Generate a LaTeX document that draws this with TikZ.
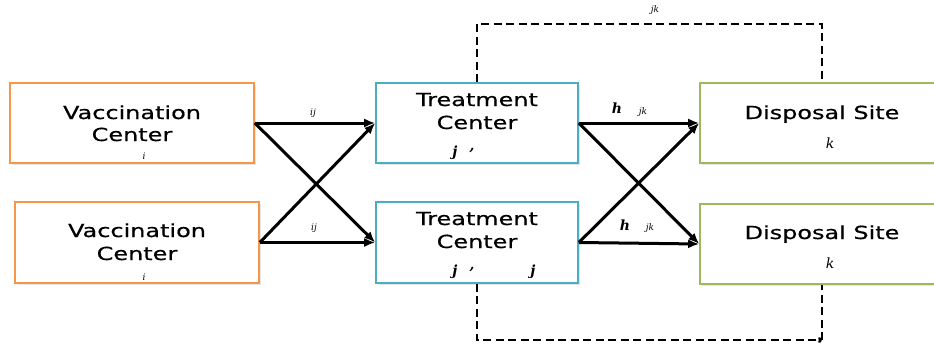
\documentclass[tikz,border=0pt]{standalone}
\usepackage{fontspec}
\newfontfamily\boxfont{DejaVu Sans}[FakeStretch=1.33,FakeBold=0.6]
\newfontfamily\lblfont{DejaVu Serif}
\usetikzlibrary{arrows.meta,shadows}
\definecolor{vorange}{HTML}{F79646}
\definecolor{tblue}{HTML}{4BACC6}
\definecolor{dgreen}{HTML}{9BBB59}
\begin{document}
\begin{tikzpicture}[x=1pt,y=-1pt,
  box/.style={draw, line width=1.6pt, fill=white, rectangle, inner sep=0pt,
    drop shadow={shadow xshift=1.5pt, shadow yshift=-1.5pt, opacity=0.2}},
  vbox/.style={box, draw=vorange, minimum width=244pt},
  tbox/.style={box, draw=tblue, minimum width=202pt},
  dbox/.style={box, draw=dgreen, minimum width=244pt, minimum height=80pt},
  lbl/.style={font=\boxfont\fontsize{18}{22}\selectfont, anchor=base, inner sep=0pt},
  sm/.style={font=\lblfont\itshape\fontsize{9}{10}\selectfont, inner sep=0pt},
  md/.style={font=\lblfont\itshape\fontsize{14}{15}\selectfont, inner sep=0pt},
  mdb/.style={font=\lblfont\bfseries\itshape\fontsize{14}{15}\selectfont, inner sep=0pt},
  flow/.style={line width=3pt, -{Latex[length=11pt,width=9pt]}},
  loopline/.style={line width=2.6pt, dash pattern=on 8pt off 4.5pt},
]
\useasboundingbox (0,0) rectangle (934,345);
\clip (0,0) rectangle (934,345);

% boxes
\node[vbox, minimum height=80pt] (v1) at (132,123) {};
\node[vbox, minimum height=81pt] (v2) at (137,242.5) {};
\node[tbox, minimum height=80pt] (t1) at (477,123) {};
\node[tbox, minimum height=81pt] (t2) at (477,242.5) {};
\node[dbox] (d1) at (822,123) {};
\node[dbox] (d2) at (822,244) {};

% box texts
\node[lbl] (v1a) at (132,119) {Vaccination};
\node[lbl] (v1b) at (132,141) {Center};
\node[sm] (v1i) at (144,156) {i};
\node[lbl] (v2a) at (137,237) {Vaccination};
\node[lbl] (v2b) at (137,260) {Center};
\node[sm] (v2i) at (144,277) {i};
\node[lbl] (t1a) at (477,106) {Treatment};
\node[lbl] (t1b) at (477,129) {Center};
\node[mdb] (t1j) at (455,153) {j};
\node[mdb] (t1c) at (472,151) {,};
\node[lbl] (t2a) at (477,225) {Treatment};
\node[lbl] (t2b) at (477,248) {Center};
\node[mdb] (t2j) at (455,272) {j};
\node[mdb] (t2c) at (472,270) {,};
\node[mdb] (t2j2) at (533,272) {j};
\node[lbl] (d1a) at (822,119) {Disposal Site};
\node[md] (d1k) at (830,143) {k};
\node[lbl] (d2a) at (822,239) {Disposal Site};
\node[md] (d2k) at (830,263) {k};

% flows
\draw[flow] (v1.east) -- (t1.west);
\draw[flow] (v1.east) -- (t2.west);
\draw[flow] (v2.east) -- (t1.west);
\draw[flow] (v2.east) -- (t2.west);
\draw[flow] (t1.east) -- (d1.west);
\draw[flow] (t1.east) -- (d2.west);
\draw[flow] (t2.east) -- (d1.west);
\draw[flow] (t2.east) -- (d2.west);

% flow labels
\node[sm] (lij1) at (313,113) {ij};
\node[sm] (lij2) at (314,228) {ij};
\node[mdb] (lh1) at (617,108) {h};
\node[sm] (ljk1) at (643,112) {jk};
\node[mdb] (lh2) at (625,225) {h};
\node[sm] (ljk2) at (650,228) {jk};
\node[sm] (ljk0) at (655,10) {jk};

% dashed links
\coordinate (topl) at (477,24);
\coordinate (topr) at (822,24);
\coordinate (botl) at (477,340);
\coordinate (botr) at (822,340);
\draw[loopline] (t1.north) -- (topl) -- (topr) -- (d1.north);
\draw[loopline, -{To[length=4pt,width=6pt]}] (t2.south) -- (botl) -- (botr);
\draw[loopline] (botr) -- (d2.south);
\end{tikzpicture}
\end{document}
